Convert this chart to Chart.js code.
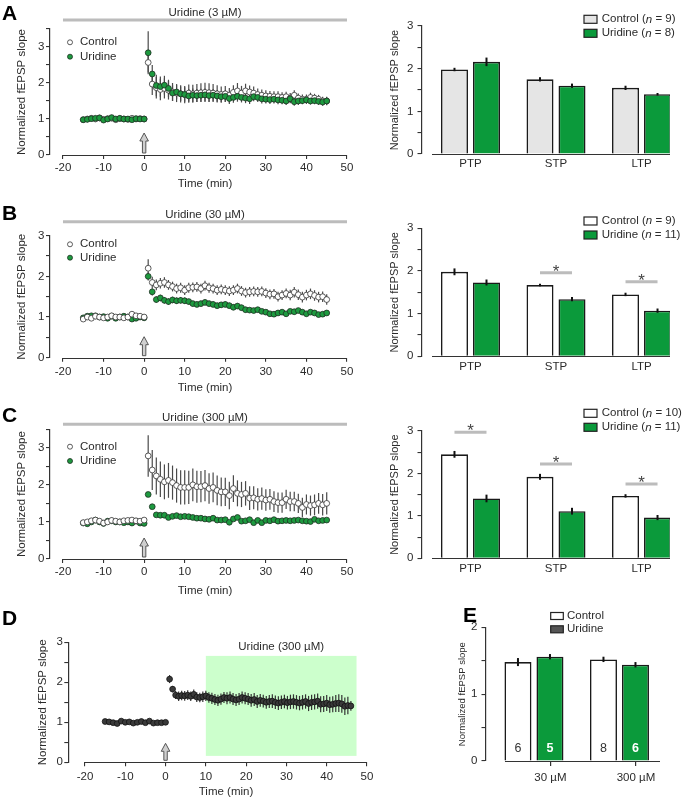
<!DOCTYPE html>
<html><head><meta charset="utf-8">
<script src="https://cdn.jsdelivr.net/npm/chart.js@4.4.1/dist/chart.umd.min.js"></script>
<style>
html,body{margin:0;padding:0;background:#fff}
#wrap{position:relative;width:685px;height:800px;overflow:hidden;background:#fff}
#wrap canvas{position:absolute}
</style></head><body><div id="wrap"></div>
<script>
// ================= DATA =================
const baseT = [-15,-14,-13,-12,-11,-10,-9,-8,-7,-6,-5,-4,-3,-2,-1,0];
const postT = [1,2,3,4,5,6,7,8,9,10,11,12,13,14,15,16,17,18,19,20,21,22,23,24,25,26,27,28,29,30,31,32,33,34,35,36,37,38,39,40,41,42,43,44,45];
const baseErr = [0.03,0.03,0.03,0.03,0.03,0.03,0.03,0.03,0.03,0.03,0.03,0.03,0.03,0.03,0.03,0.03];

// Panel A (3 uM)
const ctrlA_base = [0.98,1.00,1.02,1.00,1.03,0.99,1.01,1.02,0.98,1.01,1.00,0.99,1.02,1.00,1.01,1.00];
const ctrlA_post = [2.57,1.97,1.87,1.82,1.85,1.80,1.75,1.72,1.70,1.68,1.72,1.70,1.72,1.73,1.74,1.73,1.72,1.70,1.68,1.70,1.66,1.74,1.78,1.72,1.78,1.75,1.72,1.68,1.66,1.64,1.63,1.62,1.62,1.60,1.62,1.58,1.66,1.58,1.55,1.55,1.60,1.58,1.55,1.50,1.50];
const ctrlA_err  = [0.28,0.30,0.30,0.30,0.28,0.26,0.25,0.25,0.24,0.24,0.24,0.25,0.25,0.26,0.27,0.26,0.25,0.24,0.22,0.22,0.20,0.20,0.22,0.20,0.20,0.18,0.18,0.17,0.16,0.16,0.15,0.15,0.15,0.14,0.14,0.14,0.14,0.13,0.13,0.13,0.13,0.12,0.12,0.12,0.12];
const uriA_base  = [0.98,0.99,1.01,1.02,1.03,0.97,1.00,1.04,1.00,1.02,1.00,1.00,0.98,1.01,1.00,1.00];
const uriA_post  = [2.84,2.25,1.93,1.90,1.94,1.85,1.72,1.75,1.70,1.68,1.64,1.66,1.65,1.66,1.67,1.65,1.66,1.64,1.62,1.63,1.57,1.60,1.63,1.60,1.58,1.56,1.62,1.60,1.56,1.55,1.54,1.55,1.53,1.52,1.50,1.56,1.48,1.50,1.51,1.53,1.50,1.51,1.49,1.47,1.50];
const uriA_err   = [0.60,0.25,0.30,0.28,0.26,0.24,0.22,0.20,0.20,0.20,0.19,0.19,0.18,0.18,0.18,0.17,0.17,0.16,0.16,0.16,0.15,0.15,0.15,0.14,0.14,0.14,0.13,0.13,0.13,0.12,0.12,0.12,0.12,0.11,0.11,0.11,0.11,0.11,0.10,0.10,0.10,0.10,0.10,0.10,0.10];

// Panel B (30 uM)
const ctrlB_base = [0.95,1.00,0.97,1.02,1.00,0.98,1.00,1.03,1.00,1.00,0.98,1.00,1.07,1.03,1.02,1.00];
const ctrlB_post = [2.20,1.85,1.79,1.83,1.85,1.79,1.75,1.70,1.72,1.66,1.72,1.73,1.74,1.70,1.77,1.72,1.70,1.66,1.68,1.66,1.64,1.66,1.70,1.64,1.60,1.62,1.63,1.62,1.63,1.59,1.56,1.57,1.50,1.54,1.58,1.54,1.61,1.55,1.49,1.54,1.57,1.53,1.49,1.50,1.43];
const ctrlB_err  = [0.22,0.14,0.13,0.13,0.13,0.12,0.12,0.12,0.12,0.12,0.12,0.12,0.12,0.12,0.12,0.12,0.12,0.12,0.12,0.12,0.12,0.12,0.12,0.12,0.12,0.12,0.12,0.12,0.12,0.12,0.12,0.12,0.12,0.12,0.12,0.13,0.13,0.13,0.13,0.13,0.13,0.13,0.13,0.13,0.13];
const uriB_base  = [0.98,1.02,1.03,1.03,1.00,1.01,0.97,1.02,0.97,1.00,1.02,1.00,0.95,0.97,1.00,0.98];
const uriB_post  = [2.00,1.62,1.43,1.47,1.41,1.38,1.42,1.40,1.41,1.40,1.38,1.33,1.31,1.33,1.36,1.33,1.31,1.28,1.30,1.31,1.28,1.24,1.27,1.23,1.18,1.17,1.16,1.18,1.14,1.12,1.08,1.07,1.10,1.12,1.08,1.14,1.13,1.16,1.12,1.08,1.12,1.10,1.06,1.07,1.10];
const uriB_err   = [0.10,0.09,0.08,0.08,0.08,0.08,0.08,0.08,0.08,0.08,0.07,0.07,0.07,0.07,0.07,0.07,0.07,0.07,0.07,0.07,0.07,0.07,0.07,0.07,0.07,0.06,0.06,0.06,0.06,0.06,0.06,0.06,0.06,0.06,0.06,0.06,0.06,0.06,0.06,0.06,0.06,0.06,0.06,0.06,0.06];

// Panel C (300 uM)
const ctrlC_base = [0.98,1.00,1.03,1.05,1.02,0.97,1.00,1.04,1.02,1.00,1.03,1.04,1.05,1.03,1.02,1.05];
const ctrlC_post = [2.78,2.40,2.24,2.15,2.08,2.12,2.06,1.98,1.93,1.93,1.93,2.00,1.95,1.95,1.98,1.90,1.93,1.85,1.81,1.81,1.71,1.90,1.77,1.74,1.77,1.64,1.65,1.61,1.63,1.59,1.61,1.55,1.52,1.52,1.61,1.55,1.55,1.50,1.39,1.47,1.44,1.46,1.50,1.46,1.50];
const ctrlC_err  = [0.56,0.54,0.50,0.48,0.47,0.47,0.46,0.46,0.46,0.46,0.45,0.44,0.43,0.42,0.42,0.41,0.40,0.40,0.39,0.38,0.37,0.36,0.35,0.34,0.33,0.32,0.31,0.30,0.30,0.29,0.28,0.28,0.27,0.27,0.26,0.26,0.26,0.26,0.26,0.27,0.27,0.28,0.28,0.29,0.30];
const uriC_base  = [0.97,0.95,1.00,1.05,1.00,0.96,1.02,1.03,1.00,1.00,0.98,1.00,0.97,1.02,0.97,0.96];
const uriC_post  = [1.74,1.41,1.19,1.18,1.18,1.12,1.15,1.17,1.14,1.15,1.14,1.12,1.10,1.10,1.08,1.07,1.10,1.05,1.05,1.06,0.99,1.08,1.12,1.02,1.03,1.06,0.98,1.04,0.98,1.04,1.03,1.06,1.02,1.03,1.04,1.03,1.04,1.05,1.03,1.02,1.01,1.07,1.03,1.04,1.05];
const uriC_err   = [0.06,0.05,0.05,0.05,0.05,0.05,0.05,0.05,0.05,0.05,0.05,0.05,0.05,0.05,0.05,0.05,0.05,0.05,0.05,0.05,0.05,0.05,0.05,0.05,0.05,0.05,0.05,0.05,0.05,0.05,0.05,0.05,0.05,0.05,0.05,0.05,0.05,0.05,0.05,0.05,0.05,0.05,0.05,0.05,0.05];

// Panel D (300 uM applied after LTP)
const postTD = [1,1.75,2.5,3.25,4,4.75,5.5,6.25,7,7.75,8.5,9.25,10,10.75,11.5,12.25,13,13.75,14.5,15.25,16,16.75,17.5,18.25,19,19.75,20.5,21.25,22,22.75,23.5,24.25,25,25.75,26.5,27.25,28,28.75,29.5,30.25,31,31.75,32.5,33.25,34,34.75,35.5,36.25,37,37.75,38.5,39.25,40,40.75,41.5,42.25,43,43.75,44.5,45.25,46];
const valD_base = [1.02,1.01,0.99,0.97,1.03,1.00,1.01,0.98,1.00,1.02,0.99,1.03,0.98,0.99,0.99,1.00];
const valD_post = [2.08,1.83,1.68,1.65,1.67,1.66,1.68,1.65,1.70,1.63,1.62,1.64,1.66,1.62,1.60,1.57,1.55,1.58,1.62,1.60,1.62,1.58,1.56,1.58,1.62,1.60,1.58,1.55,1.57,1.52,1.55,1.53,1.50,1.52,1.53,1.50,1.48,1.50,1.52,1.49,1.51,1.52,1.50,1.48,1.50,1.52,1.47,1.50,1.51,1.53,1.45,1.46,1.48,1.44,1.45,1.47,1.48,1.46,1.40,1.42,1.41];
const errD_post = [0.10,0.08,0.10,0.12,0.12,0.12,0.12,0.12,0.12,0.12,0.12,0.13,0.13,0.13,0.14,0.14,0.14,0.14,0.14,0.15,0.15,0.15,0.15,0.15,0.15,0.15,0.15,0.16,0.16,0.16,0.16,0.16,0.16,0.16,0.17,0.17,0.17,0.17,0.17,0.17,0.18,0.18,0.18,0.18,0.18,0.18,0.19,0.19,0.19,0.19,0.20,0.20,0.20,0.20,0.20,0.21,0.22,0.22,0.22,0.22,0.12];
const shadeD_x = [10, 47.4];
const shadeD_y = [0.16, 2.66];

// Bar summaries (PTP, STP, LTP)
const phases = ['PTP','STP','LTP'];
const phasePos = [0,1,2];
const barCtrlA = [1.98,1.75,1.55], barCtrlA_err = [0.04,0.05,0.05];
const barUriA  = [2.16,1.60,1.40], barUriA_err  = [0.10,0.05,0.03];
const barCtrlB = [1.98,1.67,1.45], barCtrlB_err = [0.08,0.03,0.04];
const barUriB  = [1.73,1.34,1.07], barUriB_err  = [0.07,0.05,0.05];
const barCtrlC = [2.45,1.92,1.47], barCtrlC_err = [0.08,0.07,0.04];
const barUriC  = [1.41,1.11,0.96], barUriC_err  = [0.09,0.08,0.06];
const sigB = [{i:1, y:1.96},{i:2, y:1.75}];
const sigC = [{i:0, y:2.97},{i:1, y:2.22},{i:2, y:1.75}];

// Panel E
const concE = ['30 \u00b5M','300 \u00b5M'];
const concPos = [0,1];
const barCtrlE = [1.48,1.52], barCtrlE_err = [0.06,0.04];
const barUriE  = [1.56,1.44], barUriE_err  = [0.04,0.04];
const nCtrlE = ['6','8'], nUriE = ['5','6'];

const timeTicks = [-20,-10,0,10,20,30,40,50];
const yTicks35 = [0,0.5,1,1.5,2,2.5,3,3.5];
const yTicks3 = [0,0.5,1,1.5,2,2.5,3];
const yTicks2 = [0,0.5,1,1.5,2];

// ================= STYLE =================
const FF = '"Liberation Sans", Arial, Helvetica, sans-serif';
const TXT = '#2b2b2b', AX = '#333333';
const GREEN = '#0b9a3b', GREEN_PT = '#1d9a3f', GRAYBAR = '#bcbcbc';

function mkCanvas(l,t,w,h){
  const c=document.createElement('canvas');
  c.width=w;c.height=h;
  c.style.left=l+'px';c.style.top=t+'px';c.style.width=w+'px';c.style.height=h+'px';
  document.getElementById('wrap').appendChild(c);
  return c;
}
function txt(ctx,s,x,y,font,color,align,base){
  ctx.save();ctx.font=font;ctx.fillStyle=color||TXT;ctx.textAlign=align||'left';ctx.textBaseline=base||'middle';
  ctx.fillText(s,x,y);ctx.restore();
}
function segText(ctx,segs,x,y,size,color){
  let cx=x;
  segs.forEach(([s,it])=>{
    const f=(it?'italic ':'')+size+'px '+FF;
    ctx.save();ctx.font=f;ctx.fillStyle=color||TXT;ctx.textAlign='left';ctx.textBaseline='middle';
    ctx.fillText(s,cx,y);cx+=ctx.measureText(s).width;ctx.restore();
  });
}
function letter(ctx,ch,x,y){txt(ctx,ch,x,y,'bold 21px '+FF,'#000','left','alphabetic');}
function arrowUp(ctx,x,yTip,yBase){
  const hw=4.3,hl=8,sw=1.7;
  ctx.save();ctx.beginPath();
  ctx.moveTo(x,yTip);ctx.lineTo(x+hw,yTip+hl);ctx.lineTo(x+sw,yTip+hl);ctx.lineTo(x+sw,yBase);
  ctx.lineTo(x-sw,yBase);ctx.lineTo(x-sw,yTip+hl);ctx.lineTo(x-hw,yTip+hl);ctx.closePath();
  ctx.fillStyle='#cfcfcf';ctx.fill();ctx.strokeStyle='#555';ctx.lineWidth=1;ctx.stroke();ctx.restore();
}

// ================= TIME-COURSE CHART =================
function timeChart(o){
  const [bl,bt,bw,bh]=o.box;
  const cv=mkCanvas(bl,bt,bw,bh);
  const fs=11.5, lh=fs*1.2, font={family:FF,size:fs,lineHeight:1.2}, fstr=fs+'px '+FF;
  const a=o.area;
  const deco={id:'deco',
    beforeDatasetsDraw(chart){
      const ctx=chart.ctx,xs=chart.scales.x,ys=chart.scales.y;
      if(o.shade){
        const x1=xs.getPixelForValue(o.shade.x[0]),x2=xs.getPixelForValue(o.shade.x[1]);
        const y1=ys.getPixelForValue(o.shade.y[1]),y2=ys.getPixelForValue(o.shade.y[0]);
        ctx.save();ctx.fillStyle='#ccffcc';ctx.fillRect(x1,y1,x2-x1,y2-y1);ctx.restore();
      }
      o.series.forEach(s=>{
        ctx.save();ctx.strokeStyle=s.errColor;ctx.lineWidth=1.2;
        s.t.forEach((t,i)=>{
          const px=xs.getPixelForValue(t);
          ctx.beginPath();ctx.moveTo(px,ys.getPixelForValue(s.v[i]-s.e[i]));ctx.lineTo(px,ys.getPixelForValue(s.v[i]+s.e[i]));ctx.stroke();
        });
        ctx.restore();
      });
    },
    afterDraw(chart){
      const ctx=chart.ctx,xs=chart.scales.x,ys=chart.scales.y,ca=chart.chartArea;
      const x0=xs.getPixelForValue(o.xTicks[0]),x1=xs.getPixelForValue(o.xTicks[o.xTicks.length-1]);
      ctx.save();ctx.strokeStyle=AX;ctx.lineWidth=1.2;ctx.beginPath();
      ctx.moveTo(x0,Math.round(ca.bottom)+0.5);ctx.lineTo(x1,Math.round(ca.bottom)+0.5);ctx.stroke();ctx.restore();
      txt(ctx,'Time (min)',(x0+x1)/2,o.xTitleCY-bt,fstr,TXT,'center');
      if(o.topBar){
        ctx.save();ctx.strokeStyle=GRAYBAR;ctx.lineWidth=3;ctx.beginPath();
        ctx.moveTo(x0,o.topBar.y-bt);ctx.lineTo(x1,o.topBar.y-bt);ctx.stroke();ctx.restore();
        txt(ctx,o.topBar.text,(x0+x1)/2,o.topBar.ty-bt,fstr,TXT,'center');
      }
      if(o.shadeLabel){
        const sx=(xs.getPixelForValue(o.shade.x[0])+xs.getPixelForValue(o.shade.x[1]))/2;
        txt(ctx,o.shadeLabel.text,sx,o.shadeLabel.y-bt,fstr,TXT,'center');
      }
      if(o.legend){
        const L=o.legend;
        o.series.forEach((s,k)=>{
          const y=L.y[k]-bt;
          ctx.save();ctx.beginPath();ctx.arc(L.mx-bl,y,2.5,0,Math.PI*2);ctx.fillStyle=s.fill;ctx.fill();
          ctx.lineWidth=0.8;ctx.strokeStyle=s.edge;ctx.stroke();ctx.restore();
          txt(ctx,s.name,L.tx-bl,y,fstr,TXT,'left');
        });
      }
      const ax=xs.getPixelForValue(0);
      arrowUp(ctx,ax,ca.bottom-o.arrow[0],ca.bottom-o.arrow[1]);
      letter(ctx,o.letter[0],o.letter[1]-bl,o.letter[2]-bt);
    }
  };
  new Chart(cv,{
    type:'scatter',
    data:{datasets:o.series.map(s=>({label:s.name,data:s.t.map((t,i)=>({x:t,y:s.v[i]})),
      backgroundColor:s.fill,borderColor:s.edge,pointRadius:2.9,pointHoverRadius:2.9,pointBorderWidth:0.8,
      showLine:false,clip:false,order:s.order}))},
    options:{
      responsive:false,animation:false,devicePixelRatio:1,events:[],
      layout:{padding:{left:0,top:a.t-bt,right:bl+bw-a.r,bottom:bt+bh-(o.xTitleCY+lh/2)}},
      plugins:{legend:{display:false},tooltip:{enabled:false}},
      scales:{
        x:{type:'linear',min:o.xmin,max:o.xmax,
          afterBuildTicks:s=>{s.ticks=o.xTicks.map(v=>({value:v}));},
          afterFit:s=>{s.height=o.xTitleCY+lh/2-a.b;},
          grid:{display:true,drawOnChartArea:false,drawTicks:true,tickLength:4,color:AX,lineWidth:1.1},
          border:{display:false},
          ticks:{font,color:TXT,padding:o.xLabelCY-a.b-4-lh/2,autoSkip:false,maxRotation:0,minRotation:0,callback:v=>String(v)},
          title:{display:false}},
        y:{type:'linear',min:0,max:o.ymax,
          afterBuildTicks:s=>{s.ticks=o.yTicks.map(v=>({value:v}));},
          afterFit:s=>{s.width=a.l-bl;},
          grid:{display:true,drawOnChartArea:false,drawTicks:true,tickLength:4,color:AX,lineWidth:1.1},
          border:{display:true,color:AX,width:1.2},
          ticks:{font,color:TXT,padding:o.yPad,autoSkip:false,callback:v=>Number.isInteger(v)?String(v):''},
          title:{display:true,text:'Normalized fEPSP slope',font,color:TXT,padding:{top:o.yTitleCX-bl-lh/2,bottom:0}}}
      }
    },
    plugins:[deco]
  });
}

// ================= BAR CHART =================
function barChart(o){
  const [bl,bt,bw,bh]=o.box;
  const cv=mkCanvas(bl,bt,bw,bh);
  const fs=11.5, lh=fs*1.2, font={family:FF,size:fs,lineHeight:1.2}, fstr=fs+'px '+FF;
  const tfs=o.yTitleSize||11, tfont={family:FF,size:tfs,lineHeight:1.2};
  const a=o.area, xh=30, tl=o.xTickMarks?5:0;
  const deco={id:'bdeco',
    afterDatasetsDraw(chart){
      const ctx=chart.ctx,ys=chart.scales.y;
      [[o.ctrl,o.ctrlErr],[o.uri,o.uriErr]].forEach(([v,e],d)=>{
        const meta=chart.getDatasetMeta(d);
        meta.data.forEach((el,i)=>{
          ctx.save();ctx.strokeStyle='#111';ctx.lineWidth=2;ctx.beginPath();
          ctx.moveTo(el.x,ys.getPixelForValue(v[i]-e[i]));ctx.lineTo(el.x,ys.getPixelForValue(v[i]+e[i]));ctx.stroke();ctx.restore();
        });
      });
    },
    afterDraw(chart){
      const ctx=chart.ctx,xs=chart.scales.x,ys=chart.scales.y,ca=chart.chartArea;
      ctx.save();ctx.strokeStyle=AX;ctx.lineWidth=1.2;ctx.beginPath();
      ctx.moveTo(xs.getPixelForValue(o.axisFrom),Math.round(ca.bottom)+0.5);ctx.lineTo(ca.right,Math.round(ca.bottom)+0.5);ctx.stroke();ctx.restore();
      const m0=chart.getDatasetMeta(0),m1=chart.getDatasetMeta(1);
      (o.sig||[]).forEach(s=>{
        const xa=m0.data[s.i].x,xb=m1.data[s.i].x,y=ys.getPixelForValue(s.y);
        ctx.save();ctx.strokeStyle=GRAYBAR;ctx.lineWidth=3;ctx.beginPath();ctx.moveTo(xa,y);ctx.lineTo(xb,y);ctx.stroke();ctx.restore();
        txt(ctx,'*',(xa+xb)/2,y+4,'17px '+FF,'#444','center','alphabetic');
      });
      if(o.nCtrl){
        const y0=ys.getPixelForValue(0)-12;
        o.nCtrl.forEach((s,i)=>txt(ctx,s,m0.data[i].x,y0,'12.5px '+FF,'#333','center'));
        o.nUri.forEach((s,i)=>txt(ctx,s,m1.data[i].x,y0,'bold 12.5px '+FF,'#fff','center'));
      }
      const L=o.legend;
      [[o.ctrlFill,L.t1],[L.uriFill,L.t2]].forEach(([fill,segs],k)=>{
        const y=L.y[k]-bt;
        ctx.save();ctx.fillStyle=fill;ctx.fillRect(L.bx-bl,y-L.bh/2,L.bw,L.bh);
        ctx.strokeStyle='#222';ctx.lineWidth=1.2;ctx.strokeRect(L.bx-bl,y-L.bh/2,L.bw,L.bh);ctx.restore();
        segText(ctx,segs,L.tx-bl,y,fs,TXT);
      });
      if(o.letter) letter(ctx,o.letter[0],o.letter[1]-bl,o.letter[2]-bt);
    }
  };
  const common={borderColor:'#1a1a1a',borderWidth:1.6,categoryPercentage:0.7485,barPercentage:0.844};
  new Chart(cv,{
    type:'bar',
    data:{datasets:[
      Object.assign({label:'Control',data:o.ctrl.map((v,i)=>({x:o.pos[i],y:v})),backgroundColor:o.ctrlFill},common),
      Object.assign({label:'Uridine',data:o.uri.map((v,i)=>({x:o.pos[i],y:v})),backgroundColor:GREEN},common)
    ]},
    options:{
      responsive:false,animation:false,devicePixelRatio:1,events:[],
      layout:{padding:{left:0,top:a.t-bt,right:bl+bw-a.r,bottom:bt+bh-a.b-xh}},
      plugins:{legend:{display:false},tooltip:{enabled:false}},
      scales:{
        x:{type:'linear',min:o.xmin,max:o.xmax,offset:false,
          afterBuildTicks:s=>{s.ticks=o.tickVals.map(v=>({value:v}));},
          afterFit:s=>{s.height=xh;},
          grid:{display:!!o.xTickMarks,drawTicks:!!o.xTickMarks,drawOnChartArea:false,offset:false,tickLength:tl,color:AX,lineWidth:1.2},
          border:{display:false},
          ticks:{font,color:TXT,padding:o.xLabelCY-a.b-tl-lh/2,autoSkip:false,maxRotation:0,minRotation:0,callback:(v,i)=>o.tickLabels[i]}},
        y:{type:'linear',min:0,max:o.ymax,
          afterBuildTicks:s=>{s.ticks=o.yTicks.map(v=>({value:v}));},
          afterFit:s=>{s.width=a.l-bl;},
          grid:{display:true,drawOnChartArea:false,drawTicks:true,tickLength:4.5,color:AX,lineWidth:1.1},
          border:{display:true,color:AX,width:1.2},
          ticks:{font,color:TXT,padding:o.yPad,autoSkip:false,callback:v=>Number.isInteger(v)?String(v):''},
          title:{display:true,text:'Normalized fEPSP slope',font:tfont,color:TXT,padding:{top:o.yTitleCX-bl-tfs*0.6,bottom:0}}}
      }
    },
    plugins:[deco]
  });
}

// ================= BUILD =================
const tAll = baseT.concat(postT);
const S = (name,t,v,e,fill,edge,errColor,order)=>({name,t,v,e,fill,edge,errColor,order});

timeChart({box:[0,0,360,200],area:{l:50,r:347,t:29,b:155},xmin:-23.2,xmax:50,ymax:3.5,yTicks:yTicks35,xTicks:timeTicks,
  xLabelCY:168.3,xTitleCY:184,yTitleCX:22,yPad:1.5,
  topBar:{y:20,ty:13.3,text:'Uridine (3 \u00b5M)'},legend:{mx:70,tx:80,y:[42.3,56.7]},arrow:[22,2],letter:['A',2,20],
  series:[S('Control',tAll,ctrlA_base.concat(ctrlA_post),baseErr.concat(ctrlA_err),'#ffffff','#333','#4a4a4a',1),
          S('Uridine',tAll,uriA_base.concat(uriA_post),baseErr.concat(uriA_err),GREEN_PT,'#1e2e22','#4a4a4a',0)]});

timeChart({box:[0,195,360,202],area:{l:50,r:347,t:235.7,b:357.7},xmin:-23.2,xmax:50,ymax:3,yTicks:yTicks3,xTicks:timeTicks,
  xLabelCY:371.7,xTitleCY:388.3,yTitleCX:22,yPad:1.5,
  topBar:{y:221.7,ty:215,text:'Uridine (30 \u00b5M)'},legend:{mx:70,tx:80,y:[244.3,257.7]},arrow:[21,2],letter:['B',2,220],
  series:[S('Control',tAll,ctrlB_base.concat(ctrlB_post),baseErr.concat(ctrlB_err),'#ffffff','#333','#4a4a4a',0),
          S('Uridine',tAll,uriB_base.concat(uriB_post),baseErr.concat(uriB_err),GREEN_PT,'#1e2e22','#4a4a4a',1)]});

timeChart({box:[0,395,360,205],area:{l:50,r:347,t:429.2,b:559},xmin:-23.2,xmax:50,ymax:3.5,yTicks:yTicks35,xTicks:timeTicks,
  xLabelCY:571.7,xTitleCY:590.7,yTitleCX:22,yPad:1.5,
  topBar:{y:424.3,ty:418.3,text:'Uridine (300 \u00b5M)'},legend:{mx:70,tx:80,y:[446.7,461]},arrow:[21,2],letter:['C',2,421.7],
  series:[S('Control',tAll,ctrlC_base.concat(ctrlC_post),baseErr.concat(ctrlC_err),'#ffffff','#333','#4a4a4a',0),
          S('Uridine',tAll,uriC_base.concat(uriC_post),baseErr.concat(uriC_err),GREEN_PT,'#1e2e22','#4a4a4a',1)]});

timeChart({box:[0,600,385,200],area:{l:68.3,r:367,t:642.3,b:762.3},xmin:-24.14,xmax:50,ymax:3,yTicks:yTicks3,xTicks:timeTicks,
  xLabelCY:777.3,xTitleCY:792.3,yTitleCX:43,yPad:1.5,
  shade:{x:shadeD_x,y:shadeD_y},shadeLabel:{text:'Uridine (300 \u00b5M)',y:647.3},arrow:[19,2],letter:['D',2,625],
  series:[S('Uridine 300',baseT.concat(postTD),valD_base.concat(valD_post),baseErr.concat(errD_post),'#3a3a3a','#111','#333',0)]});

const legSegs=(n1,n2)=>[[['Control (',0],['n',1],[' = '+n1+')',0]],[['Uridine (',0],['n',1],[' = '+n2+')',0]]];
const LA=legSegs(9,8), LB=legSegs(9,11), LC=legSegs(10,11);

barChart({box:[360,0,325,200],area:{l:422,r:670,t:26,b:154},xmin:-0.567,xmax:2.333,axisFrom:-0.45,ymax:3,yTicks:yTicks3,
  pos:phasePos,tickVals:phasePos,tickLabels:phases,xLabelCY:164.3,yTitleCX:395,yPad:4,
  ctrl:barCtrlA,ctrlErr:barCtrlA_err,uri:barUriA,uriErr:barUriA_err,ctrlFill:'#e5e5e5',
  legend:{bx:584,bw:13,bh:8,tx:601.7,y:[19.3,33.3],uriFill:GREEN,t1:LA[0],t2:LA[1]}});

barChart({box:[360,195,325,202],area:{l:422,r:670,t:228.3,b:356.3},xmin:-0.567,xmax:2.333,axisFrom:-0.45,ymax:3,yTicks:yTicks3,
  pos:phasePos,tickVals:phasePos,tickLabels:phases,xLabelCY:367.3,yTitleCX:395,yPad:4,
  ctrl:barCtrlB,ctrlErr:barCtrlB_err,uri:barUriB,uriErr:barUriB_err,ctrlFill:'#ffffff',sig:sigB,
  legend:{bx:584,bw:13,bh:8,tx:601.7,y:[221,235],uriFill:GREEN,t1:LB[0],t2:LB[1]}});

barChart({box:[360,395,325,205],area:{l:422,r:670,t:431,b:558.3},xmin:-0.567,xmax:2.333,axisFrom:-0.45,ymax:3,yTicks:yTicks3,
  pos:phasePos,tickVals:phasePos,tickLabels:phases,xLabelCY:569.3,yTitleCX:395,yPad:4,
  ctrl:barCtrlC,ctrlErr:barCtrlC_err,uri:barUriC,uriErr:barUriC_err,ctrlFill:'#ffffff',sig:sigC,
  legend:{bx:584,bw:13,bh:8,tx:601.7,y:[413.3,427.3],uriFill:GREEN,t1:LC[0],t2:LC[1]}});

barChart({box:[440,600,245,200],area:{l:486,r:660,t:627.3,b:761},xmin:-0.561,xmax:1.474,axisFrom:-0.339,ymax:2,yTicks:yTicks2,
  pos:concPos,tickVals:[0.193,1.193],tickLabels:concE,xTickMarks:true,xLabelCY:777.7,yTitleCX:462,yTitleSize:9.5,yPad:4,
  ctrl:barCtrlE,ctrlErr:barCtrlE_err,uri:barUriE,uriErr:barUriE_err,ctrlFill:'#ffffff',nCtrl:nCtrlE,nUri:nUriE,
  legend:{bx:550.7,bw:12.6,bh:7,tx:567,y:[616,629.3],uriFill:'#555555',t1:[['Control',0]],t2:[['Uridine',0]]},
  letter:['E',463,622]});
</script></body></html>
